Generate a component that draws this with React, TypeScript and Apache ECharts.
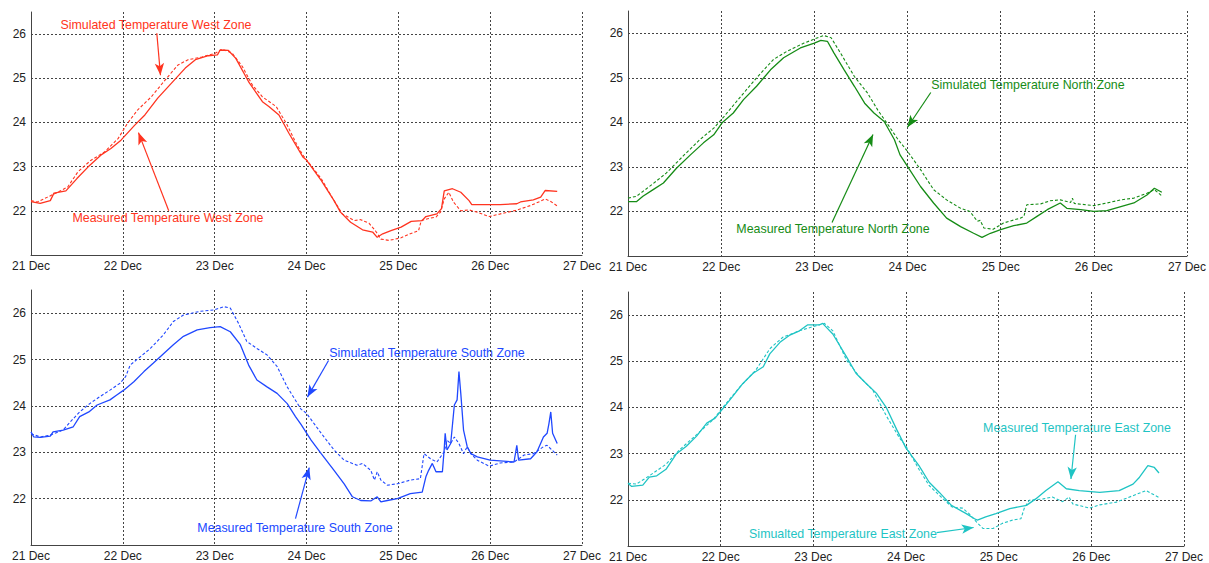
import React, { useEffect, useRef } from "react";
import * as echarts from "echarts";

// x values are days after 21 Dec 00:00
const xLabels = ["21 Dec", "22 Dec", "23 Dec", "24 Dec", "25 Dec", "26 Dec", "27 Dec"];
const yTickLabels = [22, 23, 24, 25, 26];

const westMeasured: number[][] = [
  [0, 22.21], [0.1, 22.17], [0.21, 22.23], [0.25, 22.4], [0.38, 22.45], [0.5, 22.73], [0.62, 22.99],
  [0.76, 23.26], [0.87, 23.41], [0.98, 23.6], [1.13, 23.94], [1.24, 24.17], [1.38, 24.55], [1.53, 24.89],
  [1.68, 25.23], [1.79, 25.42], [1.93, 25.51], [2.03, 25.53], [2.06, 25.64], [2.15, 25.63], [2.23, 25.45],
  [2.37, 24.92], [2.52, 24.47], [2.59, 24.36], [2.7, 24.17], [2.81, 23.75], [2.96, 23.22], [3.0, 23.15],
  [3.16, 22.69], [3.3, 22.23], [3.37, 21.97], [3.48, 21.74], [3.61, 21.57], [3.72, 21.52], [3.77, 21.4],
  [3.83, 21.48], [3.92, 21.55], [4.03, 21.63], [4.14, 21.76], [4.26, 21.78], [4.3, 21.87], [4.42, 21.93],
  [4.47, 22.05], [4.5, 22.45], [4.59, 22.5], [4.68, 22.42], [4.77, 22.23], [4.8, 22.14], [5.11, 22.14],
  [5.29, 22.16], [5.33, 22.2], [5.47, 22.25], [5.55, 22.31], [5.6, 22.46], [5.73, 22.44],
];
const westSimulated: number[][] = [
  [0, 22.23], [0.07, 22.2], [0.18, 22.31], [0.29, 22.42], [0.4, 22.54], [0.51, 22.88], [0.65, 23.14],
  [0.8, 23.33], [0.95, 23.64], [1.05, 23.98], [1.16, 24.28], [1.31, 24.58], [1.46, 24.96], [1.6, 25.3],
  [1.71, 25.42], [1.86, 25.48], [2.01, 25.57], [2.08, 25.66], [2.19, 25.57], [2.3, 25.27], [2.41, 24.85],
  [2.52, 24.58], [2.67, 24.36], [2.78, 23.98], [2.89, 23.52], [2.96, 23.26], [3.16, 22.73], [3.3, 22.23],
  [3.39, 21.93], [3.52, 21.78], [3.59, 21.8], [3.68, 21.72], [3.75, 21.55], [3.81, 21.36], [3.9, 21.33],
  [4.03, 21.39], [4.13, 21.48], [4.22, 21.55], [4.25, 21.78], [4.32, 21.82], [4.41, 21.86], [4.46, 21.97],
  [4.5, 22.27], [4.55, 22.42], [4.6, 22.2], [4.68, 22.0], [4.77, 22.02], [4.86, 21.97], [4.99, 21.87],
  [5.11, 21.93], [5.28, 22.01], [5.44, 22.12], [5.55, 22.22], [5.6, 22.27], [5.66, 22.21], [5.73, 22.11],
];

const northMeasured: number[][] = [
  [0, 22.22], [0.09, 22.22], [0.16, 22.34], [0.27, 22.49], [0.38, 22.64], [0.52, 22.97], [0.67, 23.27],
  [0.81, 23.54], [0.92, 23.72], [1.01, 23.99], [1.13, 24.21], [1.24, 24.51], [1.38, 24.81], [1.53, 25.18],
  [1.67, 25.45], [1.85, 25.67], [2.0, 25.78], [2.07, 25.84], [2.14, 25.82], [2.21, 25.56], [2.32, 25.18],
  [2.43, 24.81], [2.54, 24.43], [2.64, 24.21], [2.75, 24.02], [2.86, 23.61], [2.92, 23.27], [3.0, 23.01],
  [3.14, 22.56], [3.28, 22.19], [3.42, 21.85], [3.57, 21.66], [3.71, 21.51], [3.8, 21.42], [3.89, 21.51],
  [4.0, 21.59], [4.14, 21.68], [4.28, 21.74], [4.39, 21.89], [4.5, 22.04], [4.64, 22.19], [4.71, 22.07],
  [4.86, 22.04], [5.0, 22.0], [5.14, 22.02], [5.29, 22.11], [5.43, 22.19], [5.57, 22.37], [5.65, 22.52],
  [5.73, 22.43],
];
const northSimulated: number[][] = [
  [0, 22.3], [0.09, 22.34], [0.23, 22.56], [0.41, 22.86], [0.59, 23.24], [0.77, 23.61], [0.92, 23.87],
  [1.03, 24.13], [1.21, 24.58], [1.38, 25.0], [1.56, 25.41], [1.71, 25.6], [1.89, 25.78], [2.0, 25.87],
  [2.1, 25.95], [2.18, 25.9], [2.28, 25.56], [2.43, 25.03], [2.57, 24.66], [2.68, 24.28], [2.79, 23.95],
  [2.9, 23.61], [3.0, 23.35], [3.14, 22.94], [3.28, 22.49], [3.42, 22.26], [3.57, 22.07], [3.67, 22.0],
  [3.75, 21.78], [3.78, 21.8], [3.82, 21.63], [3.92, 21.6], [4.03, 21.74], [4.21, 21.85], [4.25, 21.89],
  [4.28, 22.15], [4.43, 22.17], [4.53, 22.24], [4.64, 22.26], [4.75, 22.2], [4.77, 22.3], [4.79, 22.18],
  [5.0, 22.13], [5.14, 22.19], [5.29, 22.26], [5.43, 22.3], [5.57, 22.41], [5.65, 22.49], [5.73, 22.35],
];

const southMeasured: number[][] = [
  [0, 23.44], [0.03, 23.33], [0.1, 23.32], [0.21, 23.35], [0.24, 23.44], [0.35, 23.48], [0.46, 23.55],
  [0.53, 23.77], [0.63, 23.87], [0.72, 24.02], [0.86, 24.13], [0.93, 24.23], [1.01, 24.34], [1.12, 24.52],
  [1.23, 24.74], [1.33, 24.92], [1.44, 25.12], [1.55, 25.32], [1.66, 25.5], [1.81, 25.64], [1.95, 25.69],
  [2.06, 25.71], [2.17, 25.6], [2.28, 25.32], [2.37, 24.88], [2.46, 24.56], [2.57, 24.41], [2.68, 24.27],
  [2.79, 24.05], [2.88, 23.77], [2.94, 23.6], [3.05, 23.26], [3.16, 22.97], [3.3, 22.61], [3.41, 22.32],
  [3.5, 22.04], [3.59, 21.96], [3.7, 21.95], [3.77, 22.04], [3.81, 21.93], [3.88, 21.96], [3.99, 22.0],
  [4.13, 22.11], [4.26, 22.14], [4.3, 22.47], [4.33, 22.61], [4.37, 22.76], [4.41, 22.58], [4.48, 22.58],
  [4.5, 23.08], [4.51, 23.41], [4.53, 23.05], [4.57, 23.19], [4.61, 24.02], [4.64, 24.13], [4.66, 24.74],
  [4.68, 24.27], [4.71, 23.48], [4.75, 23.12], [4.79, 22.97], [4.86, 22.9], [5.0, 22.83], [5.26, 22.79],
  [5.29, 23.15], [5.31, 22.83], [5.44, 22.86], [5.51, 23.01], [5.58, 23.33], [5.62, 23.41], [5.64, 23.62],
  [5.66, 23.87], [5.68, 23.41], [5.73, 23.19],
];
const southSimulated: number[][] = [
  [0, 23.4], [0.1, 23.33], [0.21, 23.37], [0.35, 23.48], [0.43, 23.66], [0.53, 23.87], [0.64, 24.05],
  [0.75, 24.2], [0.86, 24.34], [0.97, 24.49], [1.03, 24.63], [1.08, 24.88], [1.19, 25.06], [1.3, 25.24],
  [1.44, 25.53], [1.55, 25.82], [1.66, 25.96], [1.84, 26.04], [1.99, 26.07], [2.1, 26.14], [2.17, 26.11],
  [2.26, 25.78], [2.35, 25.39], [2.46, 25.24], [2.57, 25.1], [2.68, 24.85], [2.79, 24.41], [2.94, 23.93],
  [3.0, 23.84], [3.16, 23.41], [3.3, 23.05], [3.41, 22.83], [3.55, 22.72], [3.61, 22.76], [3.7, 22.61],
  [3.74, 22.4], [3.77, 22.58], [3.81, 22.4], [3.88, 22.29], [3.99, 22.32], [4.13, 22.4], [4.24, 22.43],
  [4.28, 22.97], [4.35, 22.86], [4.42, 22.79], [4.46, 22.9], [4.5, 23.01], [4.53, 23.26], [4.57, 23.19],
  [4.61, 23.33], [4.66, 23.19], [4.71, 22.97], [4.75, 23.12], [4.79, 22.97], [4.86, 22.83], [4.99, 22.7],
  [5.11, 22.77], [5.26, 22.79], [5.37, 22.94], [5.47, 22.97], [5.58, 23.12], [5.62, 23.15], [5.73, 22.94],
];

const eastMeasured: number[][] = [
  [0, 22.36], [0.04, 22.29], [0.16, 22.32], [0.23, 22.49], [0.31, 22.52], [0.41, 22.66], [0.52, 22.99],
  [0.63, 23.16], [0.74, 23.38], [0.85, 23.66], [0.94, 23.77], [1.03, 23.99], [1.13, 24.24], [1.24, 24.52],
  [1.35, 24.74], [1.46, 24.88], [1.53, 25.16], [1.64, 25.41], [1.74, 25.56], [1.85, 25.66], [1.94, 25.79],
  [2.07, 25.79], [2.1, 25.82], [2.21, 25.59], [2.36, 25.09], [2.46, 24.74], [2.57, 24.52], [2.68, 24.31],
  [2.79, 23.99], [2.9, 23.52], [3.0, 23.12], [3.14, 22.74], [3.25, 22.38], [3.36, 22.16], [3.49, 21.88],
  [3.65, 21.7], [3.74, 21.59], [3.77, 21.56], [3.86, 21.63], [3.97, 21.7], [4.12, 21.81], [4.3, 21.88],
  [4.4, 22.02], [4.51, 22.2], [4.64, 22.39], [4.73, 22.24], [4.87, 22.2], [5.09, 22.16], [5.3, 22.2],
  [5.45, 22.34], [5.52, 22.49], [5.61, 22.74], [5.68, 22.7], [5.73, 22.58],
];
const eastSimulated: number[][] = [
  [0, 22.36], [0.09, 22.34], [0.23, 22.52], [0.41, 22.77], [0.56, 23.09], [0.74, 23.41], [0.92, 23.74],
  [1.06, 24.09], [1.21, 24.45], [1.38, 24.81], [1.53, 25.27], [1.67, 25.52], [1.85, 25.66], [2.03, 25.77],
  [2.12, 25.82], [2.21, 25.66], [2.36, 25.02], [2.5, 24.66], [2.64, 24.38], [2.79, 23.81], [2.93, 23.34],
  [3.0, 23.16], [3.14, 22.66], [3.25, 22.31], [3.4, 22.02], [3.5, 21.84], [3.61, 21.82], [3.68, 21.7],
  [3.76, 21.52], [3.83, 21.38], [3.94, 21.38], [4.04, 21.49], [4.15, 21.56], [4.24, 21.59], [4.28, 21.84],
  [4.33, 21.99], [4.48, 22.02], [4.58, 22.06], [4.69, 21.96], [4.76, 22.06], [4.8, 21.91], [4.98, 21.82],
  [5.09, 21.89], [5.27, 21.95], [5.45, 22.09], [5.59, 22.2], [5.74, 22.04],
];

const RED = "#ff3420";
const GREEN = "#168c16";
const BLUE = "#2048ff";
const CYAN = "#1fc4c4";
const FONT = '"Liberation Sans", Arial, sans-serif';

type Arrow = { from: number[]; to: number[] };
type Note = { text: string; x: number; y: number };

const panels = [
  {
    grid: { left: 31, top: 12, width: 551, height: 243 },
    color: RED, measured: westMeasured, simulated: westSimulated,
    arrows: [
      { from: [1.37, 26.02], to: [1.41, 25.07] },
      { from: [1.5, 22.0], to: [1.17, 23.77] },
    ] as Arrow[],
    notes: [
      { text: "Simulated Temperature West Zone", x: 156, y: 25 },
      { text: "Measured Temperature West Zone", x: 168, y: 218 },
    ] as Note[],
  },
  {
    grid: { left: 628, top: 11, width: 559, height: 245 },
    color: GREEN, measured: northMeasured, simulated: northSimulated,
    arrows: [
      { from: [3.25, 24.67], to: [3.0, 23.89] },
      { from: [2.19, 21.75], to: [2.63, 23.73] },
    ] as Arrow[],
    notes: [
      { text: "Simulated Temperature North Zone", x: 1028, y: 85 },
      { text: "Measured Temperature North Zone", x: 833, y: 229 },
    ] as Note[],
  },
  {
    grid: { left: 31, top: 290, width: 551, height: 255 },
    color: BLUE, measured: southMeasured, simulated: southSimulated,
    arrows: [
      { from: [3.24, 24.98], to: [3.01, 24.19] },
      { from: [2.88, 21.57], to: [3.03, 22.67] },
    ] as Arrow[],
    notes: [
      { text: "Simulated Temperature South Zone", x: 427, y: 353 },
      { text: "Measured Temperature South Zone", x: 295, y: 528 },
    ] as Note[],
  },
  {
    grid: { left: 628, top: 292, width: 556, height: 256 },
    color: CYAN, measured: eastMeasured, simulated: eastSimulated,
    arrows: [
      { from: [4.83, 23.41], to: [4.78, 22.45] },
      { from: [3.33, 21.29], to: [3.73, 21.4] },
    ] as Arrow[],
    notes: [
      { text: "Measured Temperature East Zone", x: 1077, y: 428 },
      { text: "Simualted Temperature East Zone", x: 843, y: 534 },
    ] as Note[],
  },
];

function buildOption() {
  const grid: any[] = [];
  const xAxis: any[] = [];
  const yAxis: any[] = [];
  const series: any[] = [];
  const graphic: any[] = [];
  const gridLine = { show: true, lineStyle: { color: "#444", type: [2, 2], width: 1 } };

  panels.forEach((p, i) => {
    grid.push({ ...p.grid, containLabel: false });
    xAxis.push({
      type: "value", gridIndex: i, min: 0, max: 6, interval: 1,
      axisLine: { show: true, lineStyle: { color: "#444", width: 1 } },
      axisTick: { show: false },
      axisLabel: {
        color: "#222", fontSize: 12, fontFamily: FONT, margin: 5,
        formatter: (v: number) => xLabels[Math.round(v)] ?? "",
      },
      splitLine: { ...gridLine, showMinLine: false, showMaxLine: true },
    });
    yAxis.push({
      type: "value", gridIndex: i, min: 21, max: 26.5, interval: 1,
      axisLine: { show: true, lineStyle: { color: "#444", width: 1 } },
      axisTick: { show: false },
      axisLabel: {
        color: "#222", fontSize: 12, fontFamily: FONT, margin: 5,
        formatter: (v: number) => (yTickLabels.includes(v) ? String(v) : ""),
      },
      splitLine: { ...gridLine, showMinLine: false, showMaxLine: false },
    });
    series.push({
      type: "line", xAxisIndex: i, yAxisIndex: i, data: p.simulated,
      showSymbol: false, symbol: "none",
      lineStyle: { color: p.color, width: 1.1, type: [3, 2] },
    });
    series.push({
      type: "line", xAxisIndex: i, yAxisIndex: i, data: p.measured,
      showSymbol: false, symbol: "none",
      lineStyle: { color: p.color, width: 1.3 },
      markLine: {
        silent: true, animation: false, symbol: "none",
        label: { show: false },
        lineStyle: { color: p.color, width: 1.2, type: "solid" },
        data: p.arrows.map((a) => [
          { coord: a.from, symbol: "none" },
          { coord: a.to, symbol: "arrow", symbolSize: [7, 12] },
        ]),
      },
    });
    p.notes.forEach((n) => {
      graphic.push({
        type: "text", x: n.x, y: n.y,
        style: {
          text: n.text, fill: p.color, font: `12.4px ${FONT}`,
          textAlign: "center", textVerticalAlign: "middle",
        },
      });
    });
  });

  return {
    animation: false,
    backgroundColor: "#fff",
    grid, xAxis, yAxis, series, graphic,
  };
}

export default function App() {
  const ref = useRef<HTMLDivElement>(null);
  useEffect(() => {
    if (!ref.current) return;
    const chart = echarts.init(ref.current, undefined, { renderer: "svg" });
    chart.setOption(buildOption() as any);
    return () => chart.dispose();
  }, []);
  return (
    <div
      ref={ref}
      style={{ position: "absolute", left: 0, top: 0, width: 1209, height: 563, background: "#fff" }}
    />
  );
}
